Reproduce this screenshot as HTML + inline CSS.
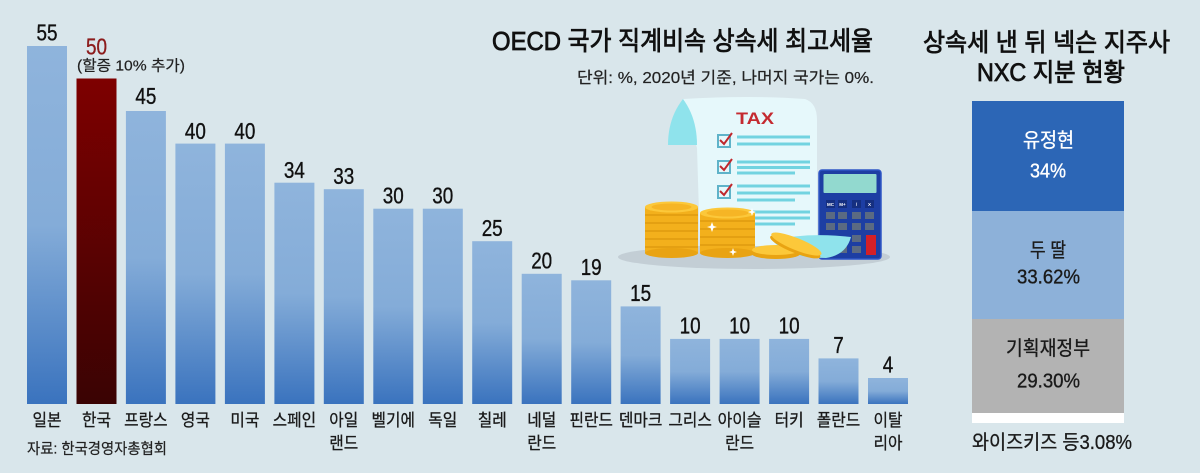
<!DOCTYPE html>
<html><head><meta charset="utf-8"><style>
html,body{margin:0;padding:0;background:#d9e6eb;}
svg{display:block;}
text{font-family:"Liberation Sans","Noto Sans CJK KR",sans-serif;}
.k{font-family:"Noto Sans CJK KR","Liberation Sans",sans-serif;}
</style></head><body>
<svg width="1200" height="473" viewBox="0 0 1200 473" xmlns="http://www.w3.org/2000/svg">
<defs>
<linearGradient id="gb" x1="0" y1="0" x2="0" y2="1">
<stop offset="0" stop-color="#8fb4dc"/><stop offset="0.5" stop-color="#84acd8"/><stop offset="1" stop-color="#3a73be"/>
</linearGradient>
<linearGradient id="gr" x1="0" y1="0" x2="0" y2="1">
<stop offset="0" stop-color="#7e0000"/><stop offset="1" stop-color="#3a0303"/>
</linearGradient>
</defs>
<rect width="1200" height="473" fill="#d9e6eb"/>

<!-- bars -->
<g>
<rect x="27" y="46" width="40" height="358" fill="url(#gb)"/>
<rect x="76.5" y="78.5" width="40" height="325.5" fill="url(#gr)"/>
<rect x="125.9" y="111" width="40" height="293" fill="url(#gb)"/>
<rect x="175.4" y="143.6" width="40" height="260.4" fill="url(#gb)"/>
<rect x="224.9" y="143.6" width="40" height="260.4" fill="url(#gb)"/>
<rect x="274.4" y="182.7" width="40" height="221.3" fill="url(#gb)"/>
<rect x="323.8" y="189.2" width="40" height="214.8" fill="url(#gb)"/>
<rect x="373.3" y="208.7" width="40" height="195.3" fill="url(#gb)"/>
<rect x="422.8" y="208.7" width="40" height="195.3" fill="url(#gb)"/>
<rect x="472.2" y="241.2" width="40" height="162.8" fill="url(#gb)"/>
<rect x="521.7" y="273.8" width="40" height="130.2" fill="url(#gb)"/>
<rect x="571.2" y="280.3" width="40" height="123.7" fill="url(#gb)"/>
<rect x="620.6" y="306.4" width="40" height="97.6" fill="url(#gb)"/>
<rect x="670.1" y="338.9" width="40" height="65.1" fill="url(#gb)"/>
<rect x="719.6" y="338.9" width="40" height="65.1" fill="url(#gb)"/>
<rect x="769.1" y="338.9" width="40" height="65.1" fill="url(#gb)"/>
<rect x="818.5" y="358.4" width="40" height="45.6" fill="url(#gb)"/>
<rect x="868" y="378" width="40" height="26" fill="url(#gb)"/>
</g>

<!-- value labels -->
<g font-size="23" fill="#111" stroke="#111" stroke-width="0.35" text-anchor="middle">
<text x="47" y="40.5" textLength="21" lengthAdjust="spacingAndGlyphs">55</text>
<text x="96.5" y="54.5" textLength="21" lengthAdjust="spacingAndGlyphs" fill="#8c1c1c" stroke="#8c1c1c">50</text>
<text x="145.9" y="104" textLength="21" lengthAdjust="spacingAndGlyphs">45</text>
<text x="195.4" y="139" textLength="21" lengthAdjust="spacingAndGlyphs">40</text>
<text x="244.9" y="139" textLength="21" lengthAdjust="spacingAndGlyphs">40</text>
<text x="294.4" y="178" textLength="21" lengthAdjust="spacingAndGlyphs">34</text>
<text x="343.8" y="184" textLength="21" lengthAdjust="spacingAndGlyphs">33</text>
<text x="393.3" y="203.5" textLength="21" lengthAdjust="spacingAndGlyphs">30</text>
<text x="442.8" y="203.5" textLength="21" lengthAdjust="spacingAndGlyphs">30</text>
<text x="492.2" y="236" textLength="21" lengthAdjust="spacingAndGlyphs">25</text>
<text x="541.7" y="268.5" textLength="21" lengthAdjust="spacingAndGlyphs">20</text>
<text x="591.2" y="275" textLength="21" lengthAdjust="spacingAndGlyphs">19</text>
<text x="640.6" y="301" textLength="21" lengthAdjust="spacingAndGlyphs">15</text>
<text x="690.1" y="333.5" textLength="21" lengthAdjust="spacingAndGlyphs">10</text>
<text x="739.6" y="333.5" textLength="21" lengthAdjust="spacingAndGlyphs">10</text>
<text x="789.1" y="333.5" textLength="21" lengthAdjust="spacingAndGlyphs">10</text>
<text x="838.5" y="353" textLength="10.5" lengthAdjust="spacingAndGlyphs">7</text>
<text x="888" y="372.5" textLength="10.5" lengthAdjust="spacingAndGlyphs">4</text>
</g>
<text x="77" y="70.5" font-size="15" fill="#222" stroke="#222" stroke-width="0.2" textLength="108" lengthAdjust="spacingAndGlyphs">(할증 10% 추가)</text>

<!-- category labels -->
<g font-size="17" fill="#1a1a1a" stroke="#1a1a1a" stroke-width="0.3" text-anchor="middle">
<text class="k" x="47" y="426" textLength="29" lengthAdjust="spacingAndGlyphs">일본</text>
<text class="k" x="96.5" y="426" textLength="29" lengthAdjust="spacingAndGlyphs">한국</text>
<text class="k" x="145.9" y="426" textLength="43.5" lengthAdjust="spacingAndGlyphs">프랑스</text>
<text class="k" x="195.4" y="426" textLength="29" lengthAdjust="spacingAndGlyphs">영국</text>
<text class="k" x="244.9" y="426" textLength="29" lengthAdjust="spacingAndGlyphs">미국</text>
<text class="k" x="294.4" y="426" textLength="43.5" lengthAdjust="spacingAndGlyphs">스페인</text>
<text class="k" x="343.8" y="426" textLength="29" lengthAdjust="spacingAndGlyphs">아일</text>
<text class="k" x="343.8" y="449" textLength="29" lengthAdjust="spacingAndGlyphs">랜드</text>
<text class="k" x="393.3" y="426" textLength="43.5" lengthAdjust="spacingAndGlyphs">벨기에</text>
<text class="k" x="442.8" y="426" textLength="29" lengthAdjust="spacingAndGlyphs">독일</text>
<text class="k" x="492.2" y="426" textLength="29" lengthAdjust="spacingAndGlyphs">칠레</text>
<text class="k" x="541.7" y="426" textLength="29" lengthAdjust="spacingAndGlyphs">네덜</text>
<text class="k" x="541.7" y="449" textLength="29" lengthAdjust="spacingAndGlyphs">란드</text>
<text class="k" x="591.2" y="426" textLength="43.5" lengthAdjust="spacingAndGlyphs">핀란드</text>
<text class="k" x="640.6" y="426" textLength="43.5" lengthAdjust="spacingAndGlyphs">덴마크</text>
<text class="k" x="690.1" y="426" textLength="43.5" lengthAdjust="spacingAndGlyphs">그리스</text>
<text class="k" x="739.6" y="426" textLength="44" lengthAdjust="spacingAndGlyphs">아이슬</text>
<text class="k" x="739.6" y="449" textLength="29" lengthAdjust="spacingAndGlyphs">란드</text>
<text class="k" x="789.1" y="426" textLength="29" lengthAdjust="spacingAndGlyphs">터키</text>
<text class="k" x="838.5" y="426" textLength="43.5" lengthAdjust="spacingAndGlyphs">폴란드</text>
<text class="k" x="888" y="426" textLength="29" lengthAdjust="spacingAndGlyphs">이탈</text>
<text class="k" x="888" y="449" textLength="29" lengthAdjust="spacingAndGlyphs">리아</text>
</g>
<text x="27" y="453.5" font-size="15" fill="#222" stroke="#222" stroke-width="0.2" textLength="140" lengthAdjust="spacingAndGlyphs">자료: 한국경영자총협회</text>

<!-- title -->
<text x="492" y="50" font-size="26" fill="#111" stroke="#111" stroke-width="0.8" textLength="381" lengthAdjust="spacingAndGlyphs">OECD 국가 직계비속 상속세 최고세율</text>
<text x="577" y="83" font-size="16" fill="#222" stroke="#222" stroke-width="0.2" textLength="297" lengthAdjust="spacingAndGlyphs">단위: %, 2020년 기준, 나머지 국가는 0%.</text>

<!-- illustration -->
<ellipse cx="754" cy="257" rx="136" ry="12" fill="#c3ced5"/>
<path d="M683 99 Q750 95 805 99 Q817 103 817 120 L817 246 L700 246 L697 148 Z" fill="#e6f8fb"/>
<path d="M683 99 Q668 118 668 145 L697 145 Q697 118 683 99 Z" fill="#8fe3ec"/>
<text x="755" y="124" font-size="17" font-weight="bold" fill="#c42a30" text-anchor="middle" textLength="38" lengthAdjust="spacingAndGlyphs">TAX</text>
<g fill="none" stroke="#5fb3c9" stroke-width="2">
<rect x="718" y="135" width="12" height="12"/>
<rect x="718" y="161" width="12" height="12"/>
<rect x="718" y="186" width="12" height="12"/>
</g>
<g fill="none" stroke="#c0282d" stroke-width="2">
<path d="M720 140 L724 144 L732 133"/>
<path d="M720 166 L724 170 L732 159"/>
<path d="M720 191 L724 195 L732 184"/>
</g>
<g stroke="#72d3e0" stroke-width="3">
<line x1="737" y1="137" x2="810" y2="137"/><line x1="737" y1="144" x2="810" y2="144"/>
<line x1="737" y1="162" x2="810" y2="162"/><line x1="737" y1="167.5" x2="810" y2="167.5"/><line x1="737" y1="173" x2="795" y2="173"/>
<line x1="737" y1="186" x2="810" y2="186"/><line x1="737" y1="193" x2="810" y2="193"/><line x1="737" y1="200" x2="795" y2="200"/>
<line x1="737" y1="212" x2="810" y2="212"/><line x1="737" y1="218" x2="810" y2="218"/><line x1="737" y1="224" x2="795" y2="224"/>
</g>
<!-- calculator -->
<rect x="819" y="170" width="62" height="89" rx="3" fill="#1d3ea3" stroke="#2f56c6" stroke-width="1.5"/>
<rect x="823.5" y="174" width="53" height="19" rx="1" fill="#92d9cf"/>
<g fill="#152f80">
<rect x="826" y="200" width="9" height="8"/><rect x="838" y="200" width="9" height="8"/><rect x="852" y="200" width="9" height="8"/><rect x="865" y="200" width="9" height="8"/>
</g>
<g fill="#5b6a82">
<rect x="826" y="212" width="9" height="7"/><rect x="838" y="212" width="9" height="7"/><rect x="852" y="212" width="9" height="7"/><rect x="865" y="212" width="9" height="7"/>
<rect x="826" y="223" width="9" height="7"/><rect x="838" y="223" width="9" height="7"/><rect x="852" y="223" width="9" height="7"/><rect x="865" y="223" width="9" height="7"/>
<rect x="852" y="235" width="9" height="7"/><rect x="852" y="246" width="9" height="7"/><rect x="838" y="246" width="9" height="7"/>
</g>
<rect x="866" y="235" width="10" height="20" fill="#d42027"/>
<g font-size="4.5" fill="#fff" font-weight="bold" text-anchor="middle">
<text x="830.5" y="206">MC</text><text x="842.5" y="206">M+</text><text x="856.5" y="206">/</text><text x="869.5" y="206">X</text>
</g>
<path d="M772 240 Q810 232 851 237 Q846 255 826 258 Q800 258 782 250 Z" fill="#8fe3ec"/>
<!-- coins -->
<g>
<rect x="645" y="207" width="53" height="46" fill="#f3b01c"/>
<ellipse cx="671.5" cy="253" rx="26.5" ry="5" fill="#e9a312"/>
<g stroke="#dc960c" stroke-width="1.2">
<line x1="645" y1="215" x2="698" y2="215"/><line x1="645" y1="223" x2="698" y2="223"/><line x1="645" y1="231" x2="698" y2="231"/><line x1="645" y1="239" x2="698" y2="239"/><line x1="645" y1="247" x2="698" y2="247"/>
</g>
<ellipse cx="671.5" cy="207" rx="26.5" ry="5.5" fill="#fcc83a"/>
<ellipse cx="671.5" cy="207" rx="20" ry="3.5" fill="#f6b525"/>
<rect x="700" y="213" width="55" height="40" fill="#f3b01c"/>
<ellipse cx="727.5" cy="253" rx="27.5" ry="5" fill="#e9a312"/>
<g stroke="#dc960c" stroke-width="1.2">
<line x1="700" y1="221" x2="755" y2="221"/><line x1="700" y1="229" x2="755" y2="229"/><line x1="700" y1="237" x2="755" y2="237"/><line x1="700" y1="245" x2="755" y2="245"/>
</g>
<ellipse cx="727.5" cy="213" rx="27.5" ry="5.5" fill="#fcc83a"/>
<ellipse cx="727.5" cy="213" rx="21" ry="3.5" fill="#f6b525"/>
<ellipse cx="776" cy="254" rx="24" ry="5" fill="#e9a312"/>
<ellipse cx="776" cy="250" rx="24" ry="5" fill="#fcc83a"/>
<g transform="rotate(22 796 245)">
<ellipse cx="796" cy="247" rx="27" ry="6" fill="#e9a312"/>
<ellipse cx="796" cy="244" rx="27" ry="6" fill="#fcc83a"/>
</g>
<g fill="#ffffff">
<path d="M712 222 L713.5 226 L717 227 L713.5 228 L712 232 L710.5 228 L707 227 L710.5 226 Z"/>
<path d="M752 208 L753 211 L756 212 L753 213 L752 216 L751 213 L748 212 L751 211 Z"/>
<path d="M733 248 L734 251 L737 252 L734 253 L733 256 L732 253 L729 252 L732 251 Z"/>
</g>
</g>

<!-- right panel -->
<text x="923" y="51" font-size="25" fill="#111" stroke="#111" stroke-width="0.8" textLength="247" lengthAdjust="spacingAndGlyphs">상속세 낸 뒤 넥슨 지주사</text>
<text x="977" y="81" font-size="25" fill="#111" stroke="#111" stroke-width="0.8" textLength="148" lengthAdjust="spacingAndGlyphs">NXC 지분 현황</text>
<rect x="972" y="101" width="152" height="110" fill="#2c66b6"/>
<rect x="972" y="211" width="152" height="108" fill="#8db1d9"/>
<rect x="972" y="319" width="152" height="94" fill="#b3b3b3"/>
<rect x="972" y="413" width="152" height="10" fill="#ffffff"/>
<g font-size="20" text-anchor="middle" stroke-width="0.35">
<text x="1048.5" y="147" fill="#ffffff" stroke="#ffffff" textLength="51" lengthAdjust="spacingAndGlyphs">유정현</text>
<text x="1048" y="177.5" fill="#ffffff" stroke="#ffffff" textLength="36" lengthAdjust="spacingAndGlyphs">34%</text>
<text x="1048" y="257" fill="#1a1a1a" stroke="#1a1a1a" textLength="36" lengthAdjust="spacingAndGlyphs">두 딸</text>
<text x="1048.5" y="283.5" fill="#1a1a1a" stroke="#1a1a1a" textLength="63" lengthAdjust="spacingAndGlyphs">33.62%</text>
<text x="1048" y="355" fill="#1a1a1a" stroke="#1a1a1a" textLength="84" lengthAdjust="spacingAndGlyphs">기획재정부</text>
<text x="1048.5" y="387.5" fill="#1a1a1a" stroke="#1a1a1a" textLength="63" lengthAdjust="spacingAndGlyphs">29.30%</text>
</g>
<text x="972" y="449" font-size="20" fill="#1a1a1a" stroke="#1a1a1a" stroke-width="0.3" textLength="160" lengthAdjust="spacingAndGlyphs">와이즈키즈 등3.08%</text>
</svg>
</body></html>
